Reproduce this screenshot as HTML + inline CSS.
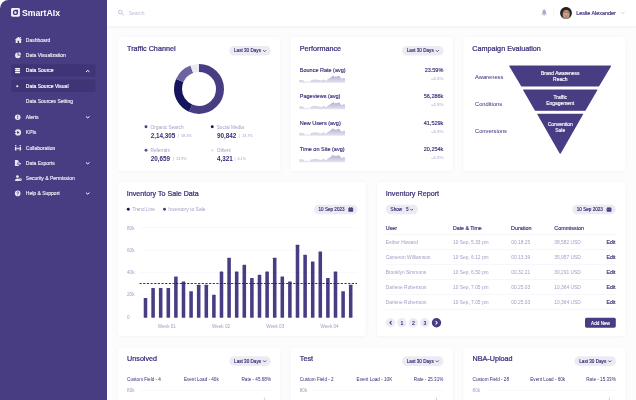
<!DOCTYPE html>
<html lang="en"><head><meta charset="utf-8"><title>SmartAIx Dashboard</title>
<style>
*{box-sizing:border-box;margin:0;padding:0}
html,body{width:636px;height:400px;overflow:hidden;background:#fff}
body{font-family:"Liberation Sans",sans-serif;color:#372b76}
#app{position:absolute;left:0;top:0;width:636px;height:400px;overflow:hidden;will-change:transform}
#app>*{position:absolute}
#main{left:107px;top:0;width:529px;height:400px;background:#fcfcfd}
#hdr{left:107px;top:0;width:529px;height:25.75px;background:#fff;box-shadow:0 0.5px 2.5px rgba(70,65,110,0.07)}
#side{left:0;top:0;width:107px;height:400px;background:#483c83;border-top-left-radius:8.5px}
.t{height:0;line-height:0;white-space:nowrap;color:#372b76}
#gfx{left:0;top:0;width:636px;height:400px}
</style></head>
<body>
<div id="app">
<div id="main"></div>
<div id="hdr"></div>
<div id="side"></div>

<svg id="gfx" width="636" height="400" viewBox="0 0 636 400">
<defs><linearGradient id="sg" x1="0" y1="0" x2="0" y2="1"><stop offset="0" stop-color="#b3afd2"/><stop offset="1" stop-color="#e6e5f0"/></linearGradient>
<clipPath id="av"><circle cx="566" cy="13" r="5.95"/></clipPath>
<filter id="sh" x="-10%" y="-10%" width="120%" height="125%"><feDropShadow dx="0" dy="0.5" stdDeviation="1.8" flood-color="#463c82" flood-opacity="0.055"/></filter></defs>
<!-- sidebar logo box + active rows -->
<rect x="11.1" y="7.9" width="8.8" height="8.8" rx="1.4" fill="#f4f2fc"/>
<rect x="11.3" y="64.15" width="84.2" height="12.7" rx="2" fill="#3f3475"/>
<rect x="11.3" y="79.4" width="84.2" height="12.7" rx="2" fill="#3f3475"/>
<!-- cards -->
<rect x="117.9" y="37" width="162.3" height="134" rx="3.5" fill="#fff" filter="url(#sh)"/><rect x="290.6" y="37" width="162.1" height="134" rx="3.5" fill="#fff" filter="url(#sh)"/><rect x="463.4" y="37" width="162.1" height="134" rx="3.5" fill="#fff" filter="url(#sh)"/>
<rect x="117.9" y="182.3" width="247.8" height="153.5" rx="3.5" fill="#fff" filter="url(#sh)"/><rect x="377" y="182.3" width="248.5" height="153.7" rx="3.5" fill="#fff" filter="url(#sh)"/>
<rect x="117.9" y="347.5" width="162.2" height="60" rx="3.5" fill="#fff" filter="url(#sh)"/><rect x="140.1" y="390" width="130.6" height="0.5" fill="#f2f1f8"/><rect x="290.6" y="347.5" width="162.2" height="60" rx="3.5" fill="#fff" filter="url(#sh)"/><rect x="312.8" y="390" width="130.6" height="0.5" fill="#f2f1f8"/><rect x="463.4" y="347.5" width="162.2" height="60" rx="3.5" fill="#fff" filter="url(#sh)"/><rect x="485.6" y="390" width="130.6" height="0.5" fill="#f2f1f8"/>
<rect x="229.25" y="46" width="41.5" height="9.6" rx="4.8" fill="#ecebf4"/><rect x="402" y="46" width="41.5" height="9.6" rx="4.8" fill="#ecebf4"/><rect x="314" y="204.7" width="43.3" height="9.6" rx="4.8" fill="#ecebf4"/><rect x="572.3" y="204.7" width="43.4" height="9.6" rx="4.8" fill="#ecebf4"/><rect x="229.3" y="356.35" width="41.5" height="9.6" rx="4.8" fill="#ecebf4"/><rect x="402" y="356.35" width="41.5" height="9.6" rx="4.8" fill="#ecebf4"/><rect x="574.5" y="356.35" width="41.5" height="9.6" rx="4.8" fill="#ecebf4"/>
<rect x="385.75" y="204.7" width="32.25" height="9.6" rx="4.8" fill="#ecebf4"/>
<circle cx="390.5" cy="322.75" r="4.7" fill="#ecebf4"/><circle cx="401.75" cy="322.75" r="4.7" fill="#ecebf4"/><circle cx="413.25" cy="322.75" r="4.7" fill="#ecebf4"/><circle cx="424.75" cy="322.75" r="4.7" fill="#ecebf4"/><circle cx="436.5" cy="322.75" r="4.7" fill="#483c83"/>
<rect x="585" y="317.7" width="30.8" height="10" rx="1.6" fill="#483c83"/>
<rect x="140" y="227.5" width="217" height="0.5" fill="#f2f1f8"/><rect x="140" y="249.8" width="217" height="0.5" fill="#f2f1f8"/><rect x="140" y="272.1" width="217" height="0.5" fill="#f2f1f8"/><rect x="140" y="294.4" width="217" height="0.5" fill="#f2f1f8"/><rect x="140" y="316.7" width="217" height="0.5" fill="#f2f1f8"/>
<rect x="385.75" y="234.25" width="230" height="0.5" fill="#efeef6"/><rect x="385.75" y="249.25" width="230" height="0.5" fill="#efeef6"/><rect x="385.75" y="264.25" width="230" height="0.5" fill="#efeef6"/><rect x="385.75" y="279.25" width="230" height="0.5" fill="#efeef6"/><rect x="385.75" y="294.25" width="230" height="0.5" fill="#efeef6"/><rect x="385.75" y="309" width="230" height="0.5" fill="#efeef6"/>
<!-- logo glyph -->
<g fill="none" stroke="#483c83" stroke-width="1.35"><circle cx="15.45" cy="12.45" r="1.95"/><path d="M15.45 10.5 L17.4 10.5 L17.4 12.45"/></g>
<g transform="translate(18.4 39.9) scale(0.56)" fill="#fff" opacity=".88"><path d="M0 -5.6 L6.4 -0.2 L4.9 -0.2 L4.9 5.4 L1.3 5.4 L1.3 1.6 L-1.3 1.6 L-1.3 5.4 L-4.9 5.4 L-4.9 -0.2 L-6.4 -0.2 Z M2.9 -5 L4.8 -5 L4.8 -2.6 L2.9 -4.2Z"/></g>
<g transform="translate(18.1 55.1) scale(0.52)" fill="#fff" opacity=".88"><path d="M-0.9 -4.9 A5.4 5.4 0 1 0 4.9 0.9 L-0.9 0.9 Z"/><path d="M0.8 -5.8 A5.2 5.2 0 0 1 5.8 -0.8 L0.8 -0.8 Z"/></g>
<g transform="translate(17.55 70.55) scale(0.5)" fill="#fff" opacity=".96"><rect x="-5" y="-5.2" width="10" height="3" rx="0.9"/><rect x="-5" y="-1.5" width="10" height="3" rx="0.9"/><rect x="-5" y="2.2" width="10" height="3" rx="0.9"/></g>
<path d="M86.3 71.60000000000001 L87.75 70.4 L89.2 71.60000000000001" fill="none" stroke="#fff" stroke-width="1" stroke-linecap="round" stroke-linejoin="round"/>
<g transform="translate(17.5 86) scale(0.5)" fill="#fff" opacity=".96"><circle cx="-0.4" cy="0.4" r="2.1"/></g>
<g transform="translate(17.7 117.2) scale(0.5)" fill="#fff" opacity=".88"><circle r="5.6"/><rect x="-0.9" y="-3.3" width="1.8" height="4.2" fill="#483c83"/><rect x="-0.9" y="1.8" width="1.8" height="1.8" fill="#483c83"/></g>
<path d="M86.3 116.7 L87.75 117.9 L89.2 116.7" fill="none" stroke="#fff" stroke-width="1" stroke-linecap="round" stroke-linejoin="round"/>
<g transform="translate(18 132.4) scale(0.53)" fill="#fff" opacity=".88"><circle r="5.8"/><path d="M-1.6 -2.9 L3.2 0 L-1.6 2.9 Z" fill="#483c83"/><rect x="-6" y="-0.7" width="2.6" height="1.4" fill="#483c83"/></g>
<g transform="translate(18 147.8) scale(0.52)" fill="#fff" opacity=".88"><circle cx="-4.4" cy="-3.9" r="1.5"/><rect x="-5.9" y="-1.7" width="3" height="6.9" rx="0.7"/><circle cx="4.4" cy="-3.9" r="1.5"/><rect x="2.9" y="-1.7" width="3" height="6.9" rx="0.7"/><rect x="-3" y="0.9" width="6" height="1.3"/><rect x="-0.9" y="-0.4" width="1.8" height="3.9" rx="0.5"/></g>
<g transform="translate(18 163) scale(0.53)" fill="#fff" opacity=".88"><path d="M-5.8 -5.5 L-0.8 -5.5 L1.4 -3.3 L1.4 -0.4 L-2 -0.4 L-2 3 L1.4 3 L1.4 5.5 L-5.8 5.5 Z"/><path d="M-1 0.6 L2.6 0.6 L2.6 -1.2 L6 1.3 L2.6 3.8 L2.6 2 L-1 2 Z"/></g>
<path d="M86.3 162.70000000000002 L87.75 163.9 L89.2 162.70000000000002" fill="none" stroke="#fff" stroke-width="1" stroke-linecap="round" stroke-linejoin="round"/>
<g transform="translate(18.3 178.1) scale(0.53)" fill="#fff" opacity=".88"><circle cx="-1.6" cy="-2.9" r="2.7"/><path d="M-6.2 5.4 C-6.2 2 -4.2 0.6 -1.6 0.6 C0 0.6 1.2 1.1 2 2.1 L2 5.4 Z"/><circle cx="3.9" cy="3" r="2.6"/><circle cx="3.9" cy="3" r="0.9" fill="#483c83"/></g>
<g transform="translate(17.7 193.4) scale(0.5)" fill="#fff" opacity=".88"><circle r="5.6"/><path d="M-1.8 -1.5 C-1.8 -3.6 1.8 -3.6 1.8 -1.5 C1.8 -0.2 0 -0.3 0 1.2" fill="none" stroke="#483c83" stroke-width="1.5"/><rect x="-0.8" y="2.2" width="1.6" height="1.6" fill="#483c83"/></g>
<path d="M86.3 192.95000000000002 L87.75 194.15 L89.2 192.95000000000002" fill="none" stroke="#fff" stroke-width="1" stroke-linecap="round" stroke-linejoin="round"/>
<!-- header -->
<circle cx="120.35" cy="12.05" r="1.85" fill="none" stroke="#b9b6d6" stroke-width="0.85"/><path d="M121.8 13.5 L123.5 15.2" stroke="#b9b6d6" stroke-width="0.9" stroke-linecap="round"/>
<path d="M544.2 9.6 C543 9.9 542.5 11 542.4 12.2 L542.3 13.4 L541.4 14.6 L547 14.6 L546.1 13.4 L546 12.2 C545.9 11 545.4 9.9 544.2 9.6 Z" fill="#aeaad0"/><path d="M543.3 15.1 A0.95 0.95 0 0 0 545.1 15.1 Z" fill="#aeaad0"/>
<rect x="553.3" y="9" width="0.5" height="7.8" fill="#ebeaf3"/>
<g clip-path="url(#av)"><rect x="559" y="6" width="14" height="14" fill="#1c2528"/><ellipse cx="562.3" cy="18.6" rx="2.3" ry="1.7" fill="#2f8ed2"/><ellipse cx="570" cy="18.6" rx="2.3" ry="1.7" fill="#2f8ed2"/><ellipse cx="566.2" cy="14.3" rx="3.55" ry="4.9" fill="#c9987d"/><rect x="564.6" y="17.2" width="3.2" height="2" fill="#b98468"/><path d="M562.2 12.6 C561.6 9 563.6 7.4 566.2 7.4 C568.8 7.4 570.8 9 570.2 12.6 C569.9 10.8 568.9 10.1 566.2 10.1 C563.5 10.1 562.5 10.8 562.2 12.6 Z" fill="#2a1f1c"/><rect x="563.4" y="11.7" width="5.6" height="0.85" rx="0.4" fill="#5e443c" opacity=".75"/><ellipse cx="566.2" cy="13.6" rx="0.7" ry="1" fill="#dcb8a4"/><rect x="565.1" y="15.8" width="2.2" height="0.5" fill="#8f6353" opacity=".8"/></g>
<path d="M621.1 12.149999999999999 L622.7 13.75 L624.3000000000001 12.149999999999999" fill="none" stroke="#b3b0d0" stroke-width="0.6" stroke-linecap="round" stroke-linejoin="round"/>
<!-- donut -->
<g fill="none" stroke-width="8" transform="translate(199 88.9) rotate(-90)"><circle r="21" stroke="#483c83" stroke-dasharray="74.18 131.95" stroke-dashoffset="0.00"/><circle r="21" stroke="#15155e" stroke-dasharray="32.72 131.95" stroke-dashoffset="-74.18"/><circle r="21" stroke="#6d63a1" stroke-dasharray="16.84 131.95" stroke-dashoffset="-106.90"/><circle r="21" stroke="#ebeaf3" stroke-dasharray="8.21 131.95" stroke-dashoffset="-123.74"/></g>
<!-- legend bullets -->
<circle cx="146" cy="126.75" r="1.45" fill="#483c83"/><circle cx="212.25" cy="126.75" r="1.45" fill="#15155e"/><circle cx="146" cy="150.25" r="1.45" fill="#5b5097"/><circle cx="212.25" cy="150.25" r="1.45" fill="#e9e8f1"/>
<circle cx="128.25" cy="209.25" r="1.45" fill="#15155e"/><circle cx="164.5" cy="209.25" r="1.45" fill="#483c83"/>
<!-- sparklines -->
<path d="M299.3 82.85 L299.30 79.95 L300.28 79.79 L301.92 80.03 L303.14 80.20 L304.37 81.18 L305.19 81.83 L306.00 82.24 L307.23 80.69 L308.05 82.00 L309.28 82.24 L310.09 81.01 L311.32 80.20 L312.95 79.79 L314.18 79.38 L315.41 80.03 L316.47 79.22 L317.45 79.79 L318.68 80.03 L319.91 80.36 L321.13 80.61 L322.36 80.20 L323.58 79.38 L324.81 80.03 L326.04 80.85 L326.86 80.20 L327.67 79.22 L328.90 78.56 L330.13 77.91 L331.35 76.93 L332.33 75.95 L332.99 75.70 L333.81 76.11 L334.62 76.93 L335.44 76.52 L336.26 76.76 L337.08 76.52 L337.89 76.11 L338.71 75.95 L339.53 76.27 L340.35 77.34 L341.16 78.40 L341.98 78.73 L342.80 78.23 L343.62 77.91 L345.01 78.15 L345.00 82.85 Z" fill="url(#sg)"/><path d="M299.3 109.30 L299.30 106.40 L300.28 106.24 L301.92 106.48 L303.14 106.65 L304.37 107.63 L305.19 108.28 L306.00 108.69 L307.23 107.14 L308.05 108.45 L309.28 108.69 L310.09 107.46 L311.32 106.65 L312.95 106.24 L314.18 105.83 L315.41 106.48 L316.47 105.67 L317.45 106.24 L318.68 106.48 L319.91 106.81 L321.13 107.06 L322.36 106.65 L323.58 105.83 L324.81 106.48 L326.04 107.30 L326.86 106.65 L327.67 105.67 L328.90 105.01 L330.13 104.36 L331.35 103.38 L332.33 102.40 L332.99 102.15 L333.81 102.56 L334.62 103.38 L335.44 102.97 L336.26 103.21 L337.08 102.97 L337.89 102.56 L338.71 102.40 L339.53 102.72 L340.35 103.79 L341.16 104.85 L341.98 105.18 L342.80 104.68 L343.62 104.36 L345.01 104.60 L345.00 109.30 Z" fill="url(#sg)"/><path d="M299.3 135.75 L299.30 132.85 L300.28 132.69 L301.92 132.93 L303.14 133.10 L304.37 134.08 L305.19 134.73 L306.00 135.14 L307.23 133.59 L308.05 134.90 L309.28 135.14 L310.09 133.91 L311.32 133.10 L312.95 132.69 L314.18 132.28 L315.41 132.93 L316.47 132.12 L317.45 132.69 L318.68 132.93 L319.91 133.26 L321.13 133.51 L322.36 133.10 L323.58 132.28 L324.81 132.93 L326.04 133.75 L326.86 133.10 L327.67 132.12 L328.90 131.46 L330.13 130.81 L331.35 129.83 L332.33 128.85 L332.99 128.60 L333.81 129.01 L334.62 129.83 L335.44 129.42 L336.26 129.66 L337.08 129.42 L337.89 129.01 L338.71 128.85 L339.53 129.17 L340.35 130.24 L341.16 131.30 L341.98 131.63 L342.80 131.13 L343.62 130.81 L345.01 131.05 L345.00 135.75 Z" fill="url(#sg)"/><path d="M299.3 162.20 L299.30 159.30 L300.28 159.14 L301.92 159.38 L303.14 159.55 L304.37 160.53 L305.19 161.18 L306.00 161.59 L307.23 160.04 L308.05 161.35 L309.28 161.59 L310.09 160.36 L311.32 159.55 L312.95 159.14 L314.18 158.73 L315.41 159.38 L316.47 158.57 L317.45 159.14 L318.68 159.38 L319.91 159.71 L321.13 159.96 L322.36 159.55 L323.58 158.73 L324.81 159.38 L326.04 160.20 L326.86 159.55 L327.67 158.57 L328.90 157.91 L330.13 157.26 L331.35 156.28 L332.33 155.30 L332.99 155.05 L333.81 155.46 L334.62 156.28 L335.44 155.87 L336.26 156.11 L337.08 155.87 L337.89 155.46 L338.71 155.30 L339.53 155.62 L340.35 156.69 L341.16 157.75 L341.98 158.08 L342.80 157.58 L343.62 157.26 L345.01 157.50 L345.00 162.20 Z" fill="url(#sg)"/>
<!-- funnel -->
<g fill="#483c83" stroke="#483c83" stroke-width="1.2" stroke-linejoin="round">
<path d="M509.9 66.1 L610.4 66.1 L598.6 86 L521.7 86 Z"/>
<path d="M523.7 90 L596.8 90 L585 110.2 L535.4 110.2 Z"/>
<path d="M537.9 114.3 L582.5 114.3 L560.2 153.1 Z"/>
</g>
<!-- bars -->
<g fill="#483c83"><rect x="143.72" y="298.01" width="3.55" height="19.74" rx="0.4"/><rect x="151.32" y="287.98" width="3.55" height="29.77" rx="0.4"/><rect x="158.92" y="287.98" width="3.55" height="29.77" rx="0.4"/><rect x="166.53" y="287.98" width="3.55" height="29.77" rx="0.4"/><rect x="174.12" y="276.50" width="3.55" height="41.26" rx="0.4"/><rect x="181.72" y="281.51" width="3.55" height="36.24" rx="0.4"/><rect x="189.32" y="291.21" width="3.55" height="26.54" rx="0.4"/><rect x="196.92" y="284.75" width="3.55" height="33.00" rx="0.4"/><rect x="204.53" y="284.75" width="3.55" height="33.00" rx="0.4"/><rect x="212.12" y="294.78" width="3.55" height="22.97" rx="0.4"/><rect x="219.72" y="271.48" width="3.55" height="46.27" rx="0.4"/><rect x="227.32" y="257.87" width="3.55" height="59.88" rx="0.4"/><rect x="234.92" y="271.48" width="3.55" height="46.27" rx="0.4"/><rect x="242.53" y="264.68" width="3.55" height="53.07" rx="0.4"/><rect x="250.12" y="277.94" width="3.55" height="39.81" rx="0.4"/><rect x="257.73" y="274.71" width="3.55" height="43.04" rx="0.4"/><rect x="265.33" y="271.48" width="3.55" height="46.27" rx="0.4"/><rect x="272.93" y="257.87" width="3.55" height="59.88" rx="0.4"/><rect x="280.52" y="276.50" width="3.55" height="41.26" rx="0.4"/><rect x="288.12" y="281.40" width="3.55" height="36.35" rx="0.4"/><rect x="295.73" y="244.83" width="3.55" height="72.92" rx="0.4"/><rect x="303.33" y="254.86" width="3.55" height="62.89" rx="0.4"/><rect x="310.93" y="261.44" width="3.55" height="56.31" rx="0.4"/><rect x="318.52" y="251.41" width="3.55" height="66.34" rx="0.4"/><rect x="326.12" y="277.94" width="3.55" height="39.81" rx="0.4"/><rect x="333.73" y="271.48" width="3.55" height="46.27" rx="0.4"/><rect x="341.33" y="291.21" width="3.55" height="26.54" rx="0.4"/><rect x="348.93" y="284.75" width="3.55" height="33.00" rx="0.4"/></g>
<path d="M139.5 283.5 L357 283.5" stroke="#1d1a64" stroke-width="0.9" stroke-dasharray="2.2 1.46" fill="none"/>
<path d="M263.35 50.43000000000001 L264.55 51.67 L265.75 50.43000000000001" fill="none" stroke="#372b76" stroke-width="0.8" stroke-linecap="round" stroke-linejoin="round"/><path d="M436.1 50.43000000000001 L437.3 51.67 L438.5 50.43000000000001" fill="none" stroke="#372b76" stroke-width="0.8" stroke-linecap="round" stroke-linejoin="round"/><rect x="348.3" y="207.85000000000002" width="4.9" height="4" rx="0.8" fill="#483c83"/><rect x="349.25" y="206.95000000000002" width="0.95" height="1.7" rx="0.4" fill="#483c83"/><rect x="351.3" y="206.95000000000002" width="0.95" height="1.7" rx="0.4" fill="#483c83"/><rect x="348.3" y="208.9" width="4.9" height="0.4" fill="#ecebf4" opacity=".45"/><rect x="606.5999999999999" y="207.85000000000002" width="4.9" height="4" rx="0.8" fill="#483c83"/><rect x="607.55" y="206.95000000000002" width="0.95" height="1.7" rx="0.4" fill="#483c83"/><rect x="609.5999999999999" y="206.95000000000002" width="0.95" height="1.7" rx="0.4" fill="#483c83"/><rect x="606.5999999999999" y="208.9" width="4.9" height="0.4" fill="#ecebf4" opacity=".45"/><path d="M263.40000000000003 360.78 L264.6 362.02 L265.8 360.78" fill="none" stroke="#372b76" stroke-width="0.8" stroke-linecap="round" stroke-linejoin="round"/><path d="M436.1 360.78 L437.3 362.02 L438.5 360.78" fill="none" stroke="#372b76" stroke-width="0.8" stroke-linecap="round" stroke-linejoin="round"/><path d="M608.5999999999999 360.78 L609.8 362.02 L611.0 360.78" fill="none" stroke="#372b76" stroke-width="0.8" stroke-linecap="round" stroke-linejoin="round"/>
<path d="M410.45000000000005 209.15 L411.6 210.35 L412.75 209.15" fill="none" stroke="#372b76" stroke-width="0.8" stroke-linecap="round" stroke-linejoin="round"/>
<path d="M391.25 321.3 L389.8 322.75 L391.25 324.2" fill="none" stroke="#372b76" stroke-width="1.05" stroke-linecap="round" stroke-linejoin="round"/><path d="M435.85 321.3 L437.3 322.75 L435.85 324.2" fill="none" stroke="#fff" stroke-width="1.05" stroke-linecap="round" stroke-linejoin="round"/>
<path d="M264.3 396.4 L264.90000000000003 400 L263.7 400 Z" fill="#cbc8e1"/><path d="M436.5 396.4 L437.1 400 L435.9 400 Z" fill="#cbc8e1"/><path d="M609.4 396.4 L610.0 400 L608.8 400 Z" fill="#cbc8e1"/>
</svg>

<!-- text -->
<div class="t" style="top:13.25px;font-size:8.7px;font-weight:bold;color:#fff;left:21.9px;">SmartAIx</div>
<div class="t" style="top:40.25px;font-size:5px;-webkit-text-stroke:0.15px;color:#fff;left:25.8px;opacity:.9;">Dashboard</div>
<div class="t" style="top:55.25px;font-size:5px;-webkit-text-stroke:0.15px;color:#fff;left:25.8px;opacity:.9;">Data Visualization</div>
<div class="t" style="top:70.25px;font-size:5px;-webkit-text-stroke:0.15px;color:#fff;left:25.8px;">Data Source</div>
<div class="t" style="top:86.25px;font-size:5px;-webkit-text-stroke:0.15px;color:#fff;left:25.8px;">Data Source Visual</div>
<div class="t" style="top:101.25px;font-size:5px;-webkit-text-stroke:0.15px;color:#fff;left:25.8px;opacity:.9;">Data Sources Setting</div>
<div class="t" style="top:117.25px;font-size:5px;-webkit-text-stroke:0.15px;color:#fff;left:25.8px;opacity:.9;">Alerts</div>
<div class="t" style="top:132.25px;font-size:5px;-webkit-text-stroke:0.15px;color:#fff;left:25.8px;opacity:.9;">KPIs</div>
<div class="t" style="top:148.25px;font-size:5px;-webkit-text-stroke:0.15px;color:#fff;left:25.8px;opacity:.9;">Collaboration</div>
<div class="t" style="top:163.25px;font-size:5px;-webkit-text-stroke:0.15px;color:#fff;left:25.8px;opacity:.9;">Data Exports</div>
<div class="t" style="top:178.25px;font-size:5px;-webkit-text-stroke:0.15px;color:#fff;left:25.8px;opacity:.9;">Security &amp; Permission</div>
<div class="t" style="top:193.25px;font-size:5px;-webkit-text-stroke:0.15px;color:#fff;left:25.8px;opacity:.9;">Help &amp; Support</div>
<div class="t" style="top:13.75px;font-size:4.97px;color:#c0bdd8;left:128.75px;">Search</div>
<div class="t" style="top:13.25px;font-size:5.38px;-webkit-text-stroke:0.15px;left:576.25px;">Leslie Alexander</div>
<div class="t" style="top:48.75px;font-size:7.22px;-webkit-text-stroke:0.22px;color:#382d78;left:127px;">Traffic Channel</div>
<div class="t" style="top:48.75px;font-size:7.22px;-webkit-text-stroke:0.22px;color:#382d78;left:299.75px;">Performance</div>
<div class="t" style="top:48.75px;font-size:7.22px;-webkit-text-stroke:0.22px;color:#382d78;left:472.25px;">Campaign Evaluation</div>
<div class="t" style="top:50.75px;font-size:4.62px;-webkit-text-stroke:0.15px;left:234.05px;">Last 30 Days</div><div class="t" style="top:50.75px;font-size:4.62px;-webkit-text-stroke:0.15px;left:406.8px;">Last 30 Days</div><div class="t" style="top:209.75px;font-size:4.6px;-webkit-text-stroke:0.15px;left:318.5px;">10 Sep 2023</div><div class="t" style="top:209.75px;font-size:4.6px;-webkit-text-stroke:0.15px;left:576.8px;">10 Sep 2023</div><div class="t" style="top:361.75px;font-size:4.62px;-webkit-text-stroke:0.15px;left:234.1px;">Last 30 Days</div><div class="t" style="top:361.75px;font-size:4.62px;-webkit-text-stroke:0.15px;left:406.8px;">Last 30 Days</div><div class="t" style="top:361.75px;font-size:4.62px;-webkit-text-stroke:0.15px;left:579.3px;">Last 30 Days</div>
<div class="t" style="top:127.75px;font-size:4.78px;color:#a19dc3;left:150.45px;">Organic Search</div><div class="t" style="top:135.75px;font-size:6.3px;font-weight:bold;left:150.75px;">2,14,305</div><div class="t" style="top:136.25px;font-size:3.7px;color:#a19dc3;left:178.25px;">|&nbsp;&nbsp;58.3%</div>
<div class="t" style="top:127.75px;font-size:4.78px;color:#a19dc3;left:216.7px;">Social Media</div><div class="t" style="top:135.75px;font-size:6.3px;font-weight:bold;left:217px;">90,842</div><div class="t" style="top:136.25px;font-size:3.7px;color:#a19dc3;left:239.3px;">|&nbsp;&nbsp;23.7%</div>
<div class="t" style="top:150.75px;font-size:4.78px;color:#a19dc3;left:150.45px;">Referrals</div><div class="t" style="top:158.75px;font-size:6.3px;font-weight:bold;left:150.75px;">20,659</div><div class="t" style="top:159.25px;font-size:3.7px;color:#a19dc3;left:173.05px;">|&nbsp;&nbsp;13.9%</div>
<div class="t" style="top:150.75px;font-size:4.78px;color:#a19dc3;left:216.7px;">Others</div><div class="t" style="top:158.75px;font-size:6.3px;font-weight:bold;left:217px;">4,321</div><div class="t" style="top:159.25px;font-size:3.7px;color:#a19dc3;left:234.5px;">|&nbsp;&nbsp;4.1%</div>
<div class="t" style="top:70.25px;font-size:5.5px;-webkit-text-stroke:0.15px;left:299.8px;">Bounce Rate (avg)</div><div class="t" style="top:70.25px;font-size:5.5px;-webkit-text-stroke:0.15px;right:192.7px;">23.59%</div><div class="t" style="top:78.75px;font-size:4.4px;color:#a19dc3;right:192.7px;">+4.5%</div><div class="t" style="top:96.25px;font-size:5.5px;-webkit-text-stroke:0.15px;left:299.8px;">Pageviews (avg)</div><div class="t" style="top:96.25px;font-size:5.5px;-webkit-text-stroke:0.15px;right:192.7px;">56,286k</div><div class="t" style="top:104.75px;font-size:4.4px;color:#a19dc3;right:192.7px;">+4.5%</div><div class="t" style="top:123.25px;font-size:5.5px;-webkit-text-stroke:0.15px;left:299.8px;">New Users (avg)</div><div class="t" style="top:123.25px;font-size:5.5px;-webkit-text-stroke:0.15px;right:192.7px;">41,529k</div><div class="t" style="top:131.75px;font-size:4.4px;color:#a19dc3;right:192.7px;">+4.5%</div><div class="t" style="top:149.25px;font-size:5.5px;-webkit-text-stroke:0.15px;left:299.8px;">Time on Site (avg)</div><div class="t" style="top:149.25px;font-size:5.5px;-webkit-text-stroke:0.15px;right:192.7px;">20,254k</div><div class="t" style="top:157.75px;font-size:4.4px;color:#a19dc3;right:192.7px;">+4.5%</div>
<div class="t" style="top:77.25px;font-size:5.75px;left:475px;">Awareness</div><div class="t" style="top:104.25px;font-size:5.75px;left:475px;">Conditions</div><div class="t" style="top:131.25px;font-size:5.75px;left:475px;">Conversions</div>
<div class="t" style="top:73.75px;font-size:4.95px;-webkit-text-stroke:0.15px;color:#fff;left:500.25px;width:120px;text-align:center;">Brand Awareness</div><div class="t" style="top:79.75px;font-size:4.95px;-webkit-text-stroke:0.15px;color:#fff;left:500.25px;width:120px;text-align:center;">Reach</div>
<div class="t" style="top:97.75px;font-size:4.95px;-webkit-text-stroke:0.15px;color:#fff;left:500.25px;width:120px;text-align:center;">Traffic</div><div class="t" style="top:103.75px;font-size:4.95px;-webkit-text-stroke:0.15px;color:#fff;left:500.25px;width:120px;text-align:center;">Engagement</div>
<div class="t" style="top:124.75px;font-size:4.95px;-webkit-text-stroke:0.15px;color:#fff;left:500.25px;width:120px;text-align:center;">Convention</div><div class="t" style="top:130.75px;font-size:4.95px;-webkit-text-stroke:0.15px;color:#fff;left:500.25px;width:120px;text-align:center;">Sale</div>
<div class="t" style="top:194.25px;font-size:7.13px;-webkit-text-stroke:0.22px;color:#382d78;left:126.8px;">Inventory To Sale Data</div>
<div class="t" style="top:209.75px;font-size:4.7px;color:#a19dc3;left:132.5px;">Trend Line</div><div class="t" style="top:209.25px;font-size:4.98px;color:#a19dc3;left:168.25px;">Inventory to Sale</div>
<div class="t" style="top:228.75px;font-size:4.65px;color:#a19dc3;left:127px;">80k</div><div class="t" style="top:250.75px;font-size:4.65px;color:#a19dc3;left:127px;">60k</div><div class="t" style="top:272.75px;font-size:4.65px;color:#a19dc3;left:127px;">40k</div><div class="t" style="top:294.75px;font-size:4.65px;color:#a19dc3;left:127px;">20k</div><div class="t" style="top:317.75px;font-size:4.65px;color:#a19dc3;left:127px;">0</div>
<div class="t" style="top:326.75px;font-size:4.6px;color:#a19dc3;left:106.8px;width:120px;text-align:center;">Week 01</div><div class="t" style="top:326.75px;font-size:4.6px;color:#a19dc3;left:161px;width:120px;text-align:center;">Week 02</div><div class="t" style="top:326.75px;font-size:4.6px;color:#a19dc3;left:215.2px;width:120px;text-align:center;">Week 03</div><div class="t" style="top:326.75px;font-size:4.6px;color:#a19dc3;left:269.6px;width:120px;text-align:center;">Week 04</div>
<div class="t" style="top:193.75px;font-size:7.22px;-webkit-text-stroke:0.22px;color:#382d78;left:385.75px;">Inventory Report</div>
<div class="t" style="top:209.75px;font-size:4.6px;-webkit-text-stroke:0.15px;left:390.6px;">Show</div><div class="t" style="top:209.75px;font-size:4.6px;-webkit-text-stroke:0.15px;left:406.1px;">5</div>
<div class="t" style="top:228.25px;font-size:5.3px;-webkit-text-stroke:0.15px;left:385.75px;">User</div><div class="t" style="top:228.25px;font-size:5.23px;-webkit-text-stroke:0.15px;left:453px;">Date &amp; Time</div><div class="t" style="top:228.25px;font-size:5.4px;-webkit-text-stroke:0.15px;left:511px;">Duration</div><div class="t" style="top:228.25px;font-size:5.4px;-webkit-text-stroke:0.15px;left:554.25px;">Commission</div>
<div class="t" style="top:242.75px;font-size:4.86px;color:#a19dc3;left:385.75px;">Esther Howard</div><div class="t" style="top:242.75px;font-size:4.86px;color:#a19dc3;left:453px;">10 Sep, 5.33 pm</div><div class="t" style="top:242.75px;font-size:4.86px;color:#a19dc3;left:511.25px;">00.18.25</div><div class="t" style="top:242.75px;font-size:4.86px;color:#a19dc3;left:554.25px;">38,582 USD</div><div class="t" style="top:242.25px;font-size:5.2px;-webkit-text-stroke:0.15px;right:20.6px;">Edit</div>
<div class="t" style="top:257.75px;font-size:4.86px;color:#a19dc3;left:385.75px;">Cameron Williamson</div><div class="t" style="top:257.75px;font-size:4.86px;color:#a19dc3;left:453px;">10 Sep, 6.12 pm</div><div class="t" style="top:257.75px;font-size:4.86px;color:#a19dc3;left:511.25px;">00.13.39</div><div class="t" style="top:257.75px;font-size:4.86px;color:#a19dc3;left:554.25px;">35,957 USD</div><div class="t" style="top:257.25px;font-size:5.2px;-webkit-text-stroke:0.15px;right:20.6px;">Edit</div>
<div class="t" style="top:272.75px;font-size:4.86px;color:#a19dc3;left:385.75px;">Brooklyn Simmons</div><div class="t" style="top:272.75px;font-size:4.86px;color:#a19dc3;left:453px;">10 Sep, 6.50 pm</div><div class="t" style="top:272.75px;font-size:4.86px;color:#a19dc3;left:511.25px;">00.32.21</div><div class="t" style="top:272.75px;font-size:4.86px;color:#a19dc3;left:554.25px;">30,291 USD</div><div class="t" style="top:272.25px;font-size:5.2px;-webkit-text-stroke:0.15px;right:20.6px;">Edit</div>
<div class="t" style="top:287.75px;font-size:4.86px;color:#a19dc3;left:385.75px;">Darlene Robertson</div><div class="t" style="top:287.75px;font-size:4.86px;color:#a19dc3;left:453px;">10 Sep, 7.05 pm</div><div class="t" style="top:287.75px;font-size:4.86px;color:#a19dc3;left:511.25px;">00.25.03</div><div class="t" style="top:287.75px;font-size:4.86px;color:#a19dc3;left:554.25px;">10,364 USD</div><div class="t" style="top:287.25px;font-size:5.2px;-webkit-text-stroke:0.15px;right:20.6px;">Edit</div>
<div class="t" style="top:302.75px;font-size:4.86px;color:#a19dc3;left:385.75px;">Darlene Robertson</div><div class="t" style="top:302.75px;font-size:4.86px;color:#a19dc3;left:453px;">10 Sep, 7.05 pm</div><div class="t" style="top:302.75px;font-size:4.86px;color:#a19dc3;left:511.25px;">00.25.03</div><div class="t" style="top:302.75px;font-size:4.86px;color:#a19dc3;left:554.25px;">10,364 USD</div><div class="t" style="top:302.25px;font-size:5.2px;-webkit-text-stroke:0.15px;right:20.6px;">Edit</div>
<div class="t" style="top:323.25px;font-size:5.2px;-webkit-text-stroke:0.15px;left:341.95px;width:120px;text-align:center;">1</div><div class="t" style="top:323.25px;font-size:5.2px;-webkit-text-stroke:0.15px;left:353.45px;width:120px;text-align:center;">2</div><div class="t" style="top:323.25px;font-size:5.2px;-webkit-text-stroke:0.15px;left:364.95px;width:120px;text-align:center;">3</div>
<div class="t" style="top:323.75px;font-size:4.68px;-webkit-text-stroke:0.15px;color:#fff;left:540.5px;width:120px;text-align:center;">Add New</div>
<div class="t" style="top:358.75px;font-size:7.2px;-webkit-text-stroke:0.22px;color:#382d78;left:127.1px;">Unsolved</div><div class="t" style="top:379.75px;font-size:4.62px;left:127.1px;">Custom Field - 4</div><div class="t" style="top:379.75px;font-size:4.62px;left:183.9px;">Event Load - 40k</div><div class="t" style="top:379.75px;font-size:4.62px;right:365px;">Rate - 45.68%</div><div class="t" style="top:390.75px;font-size:4.6px;color:#a19dc3;left:127.1px;">80k</div><div class="t" style="top:358.75px;font-size:7.2px;-webkit-text-stroke:0.22px;color:#382d78;left:299.8px;">Test</div><div class="t" style="top:379.75px;font-size:4.62px;left:299.8px;">Custom Field - 2</div><div class="t" style="top:379.75px;font-size:4.62px;left:356.6px;">Event Load - 10K</div><div class="t" style="top:379.75px;font-size:4.62px;right:192.7px;">Rate - 25.31%</div><div class="t" style="top:390.75px;font-size:4.6px;color:#a19dc3;left:299.8px;">80k</div><div class="t" style="top:358.75px;font-size:7.2px;-webkit-text-stroke:0.22px;color:#382d78;left:472.6px;">NBA-Upload</div><div class="t" style="top:379.75px;font-size:4.62px;left:472.6px;">Custom Field - 28</div><div class="t" style="top:379.75px;font-size:4.62px;left:530.3px;">Event Load - 60k</div><div class="t" style="top:379.75px;font-size:4.62px;right:20.25px;">Rate - 15.33%</div><div class="t" style="top:390.75px;font-size:4.6px;color:#a19dc3;left:472.6px;">80k</div>
</div>
</body></html>
